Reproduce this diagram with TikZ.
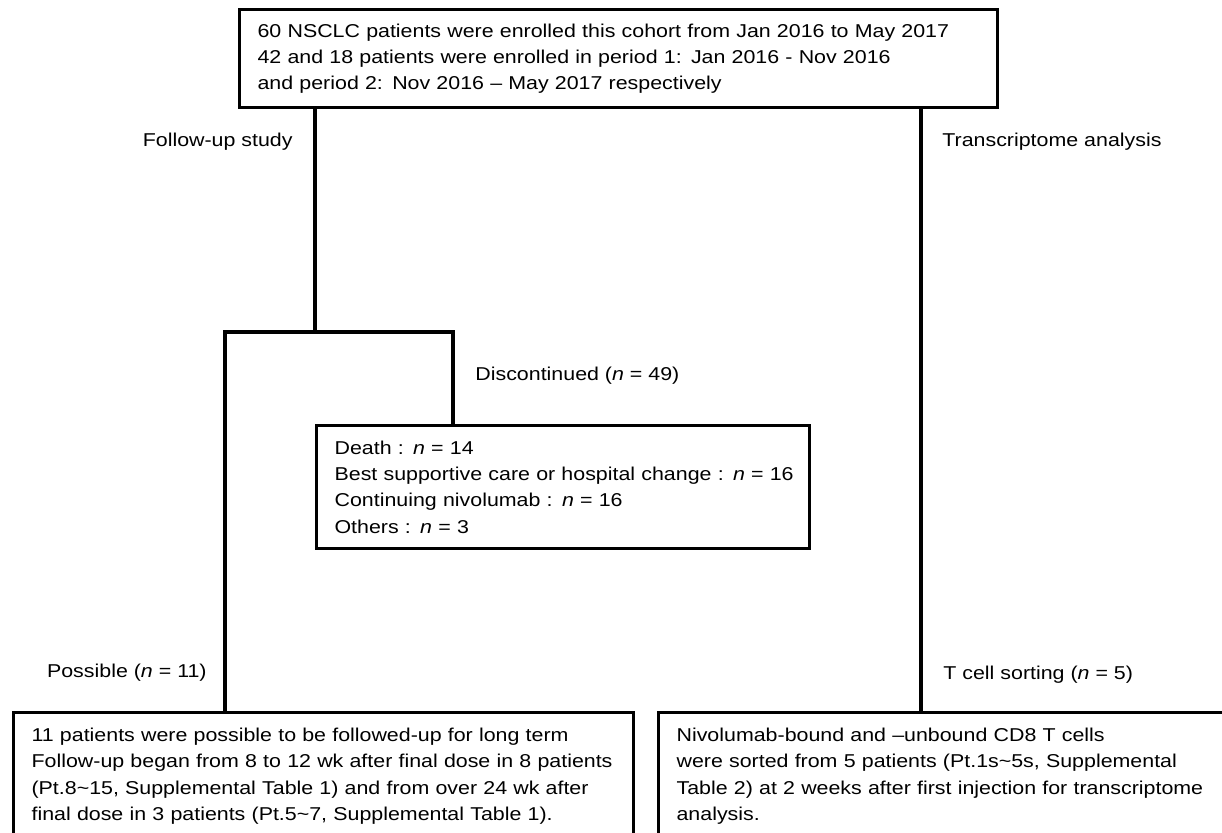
\documentclass[tikz,border=0pt]{standalone}
\usepackage{fontspec}
\setmainfont{Liberation Sans}[FakeStretch=1.15]
\usetikzlibrary{positioning,calc}

\begin{document}
\begin{tikzpicture}[
        x=0.5pt, y=-0.5pt,
        font=\fontsize{9.3pt}{13.2pt}\selectfont,
        line/.style={line width=1.6pt},
        box/.style={draw, line width=1.6pt, anchor=north west, align=left, inner xsep=9pt, inner ysep=0pt},
        lbl/.style={inner sep=0pt},
    ]
        \useasboundingbox (0,0) rectangle (1222,832);
        \clip (0,0) rectangle (1222,832);
        
        % --- boxes ---
        \node[box, text width=361pt, minimum height=49pt] (cohort) at (238,8)
            {60 NSCLC patients were enrolled this cohort from Jan 2016 to May 2017\\
             42 and 18 patients were enrolled in period 1: Jan 2016 - Nov 2016\\
             and period 2: Nov 2016 -- May 2017 respectively};
        \node[box, text width=228.5pt, minimum height=61.5pt] (disc) at (315,424)
            {Death : \textit{n} = 14\\
             \mbox{Best supportive care or hospital change : \textit{n} = 16}\\
             Continuing nivolumab : \textit{n} = 16\\
             Others : \textit{n} = 3};
        \node[box, text width=292pt, minimum height=63.5pt] (follow) at (12,711)
            {11 patients were possible to be followed-up for long term\\
             Follow-up began from 8 to 12 wk after final dose in 8 patients\\
             (Pt.8\textasciitilde15, Supplemental Table 1) and from over 24 wk after\\
             final dose in 3 patients (Pt.5\textasciitilde7, Supplemental Table 1).};
        \node[box, text width=267.5pt, minimum height=63.5pt] (sort) at (657,711)
            {Nivolumab-bound and --unbound CD8 T cells\\
             were sorted from 5 patients (Pt.1s\textasciitilde5s, Supplemental\\
             Table 2) at 2 weeks after first injection for transcriptome\\
             analysis.};
        
        % --- branch points ---
        \coordinate (fu) at (315,332);
        \coordinate (bl) at (225,332);
        \coordinate (br) at (453,332);
        \coordinate (tr) at (921,332);
        
        % left branch: follow-up study
        \draw[line] (cohort.south -| fu) -- (fu);
        \draw[line] (follow.north -| bl) |- (br) -- (disc.north -| br);
        
        % right branch: transcriptome
        \draw[line] (cohort.south -| tr) -- (sort.north -| tr);
        
        % --- labels ---
        \node[lbl, anchor=east] (fulbl) at (293,142) {Follow-up study};
        \node[lbl, anchor=west] (trlbl) at (942,142) {Transcriptome analysis};
        \node[lbl, anchor=west] (disclbl) at (475,376) {Discontinued (\textit{n} = 49)};
        \node[lbl, anchor=east] (poslbl) at (207,673) {Possible (\textit{n} = 11)};
        \node[lbl, anchor=west] (sortlbl) at (943,675) {T cell sorting (\textit{n} = 5)};
        
\end{tikzpicture}
\end{document}
